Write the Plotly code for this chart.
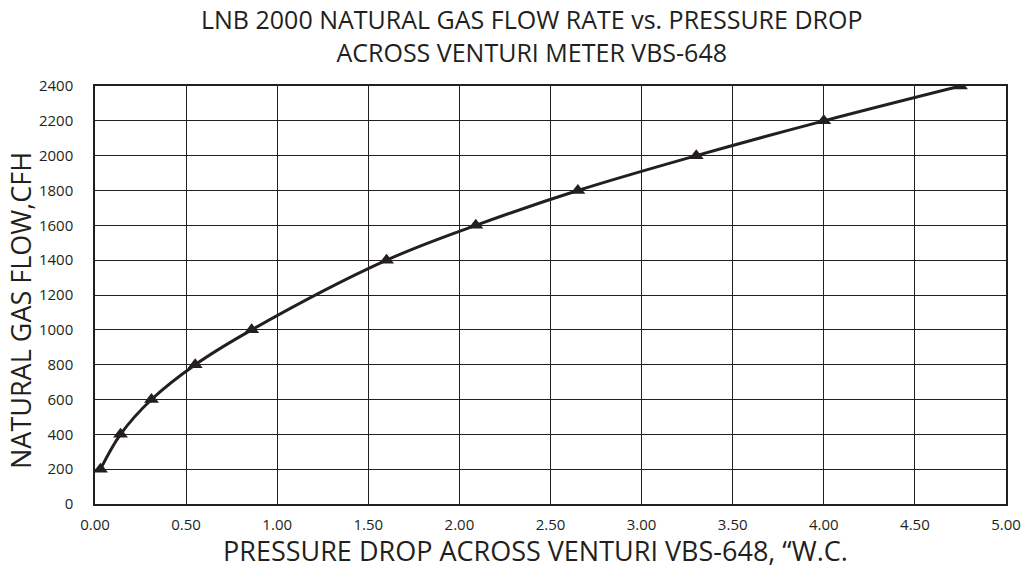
import plotly.graph_objects as go

pressure_drop = [0.03, 0.14, 0.31, 0.55, 0.86, 1.60, 2.09, 2.65, 3.30, 4.00, 4.75]
gas_flow = [200, 400, 600, 800, 1000, 1400, 1600, 1800, 2000, 2200, 2400]
x_ticks = [0, 0.5, 1.0, 1.5, 2.0, 2.5, 3.0, 3.5, 4.0, 4.5, 5.0]
y_ticks = list(range(0, 2401, 200))

title_text = "LNB 2000 NATURAL GAS FLOW RATE vs. PRESSURE DROP<br>ACROSS VENTURI METER VBS-648"
x_title = "PRESSURE DROP ACROSS VENTURI VBS-648, \u201cW.C."
y_title = "NATURAL GAS FLOW,CFH"

ink = "#231f20"
font = "Open Sans"
W, H = 1021, 571
L, R, T, B = 95, 15, 86, 67
PW, PH = W - L - R, H - T - B

fig = go.Figure()
fig.add_trace(go.Scatter(
    x=pressure_drop, y=gas_flow, mode="lines+markers",
    line=dict(color=ink, width=3, shape="spline", smoothing=1.0),
    marker=dict(symbol="triangle-up", size=13, color=ink),
    showlegend=False,
))

fig.update_layout(
    width=W, height=H,
    margin=dict(l=L, r=R, t=T, b=B),
    paper_bgcolor="white", plot_bgcolor="white",
    font=dict(family=font, color=ink),
    annotations=[
        dict(text=title_text, xref="paper", yref="paper",
             x=(532 - L) / PW, y=1 + (T - 35) / PH,
             xanchor="center", yanchor="middle", showarrow=False, align="center",
             font=dict(size=25, family=font, color=ink)),
        dict(text=x_title, xref="paper", yref="paper",
             x=(535 - L) / PW, y=-(550 - (H - B)) / PH,
             xanchor="center", yanchor="middle", showarrow=False,
             font=dict(size=27, family=font, color=ink)),
        dict(text=y_title, xref="paper", yref="paper", textangle=-90,
             x=-(L - 20) / PW, y=((H - B) - 311) / PH,
             xanchor="center", yanchor="middle", showarrow=False,
             font=dict(size=27, family=font, color=ink)),
    ],
    xaxis=dict(
        range=[0, 5], tickvals=x_ticks, ticktext=[f"{v:.2f}" for v in x_ticks],
        showgrid=True, gridcolor=ink, gridwidth=1.3,
        showline=True, linecolor=ink, linewidth=1.5, mirror=True,
        zeroline=False, ticks="", tickfont=dict(size=15, family=font, color=ink),
        ticklabelstandoff=6, automargin=False,
    ),
    yaxis=dict(
        range=[0, 2400], tickvals=y_ticks,
        showgrid=True, gridcolor=ink, gridwidth=1.3,
        showline=True, linecolor=ink, linewidth=1.5, mirror=True,
        zeroline=False, ticks="", tickfont=dict(size=15, family=font, color=ink),
        ticklabelstandoff=17, automargin=False,
    ),
)

fig.write_html("out.html", config={"displayModeBar": False},
               post_script="document.body.style.margin='0';document.body.style.padding='0';")
